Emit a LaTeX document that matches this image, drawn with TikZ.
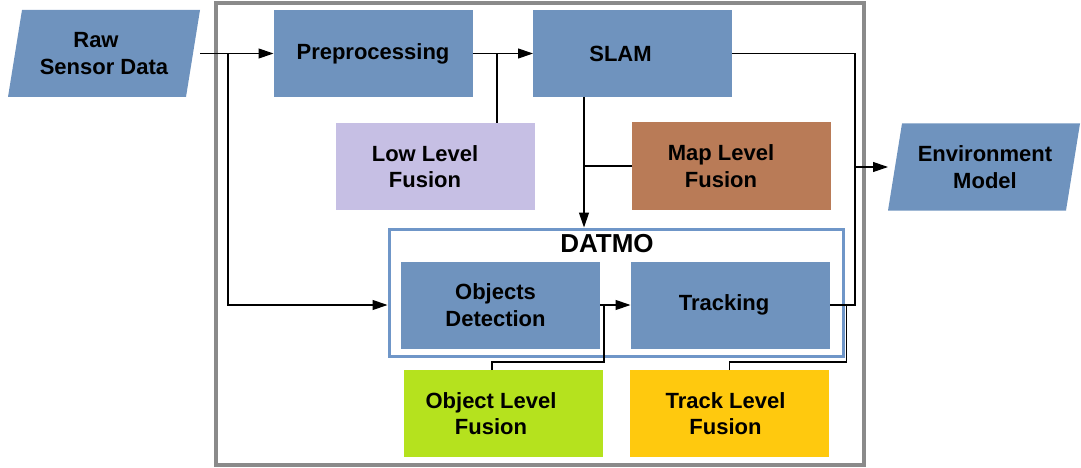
\documentclass[tikz,border=0pt]{standalone}
\usepackage{fontspec}
\setmainfont{Liberation Sans}
\usetikzlibrary{arrows.meta,backgrounds,calc}
\definecolor{bbox}{HTML}{6F93BE}
\definecolor{lav}{HTML}{C6BFE4}
\definecolor{brn}{HTML}{B97B57}
\definecolor{grn}{HTML}{B5E21E}
\definecolor{org}{HTML}{FFC90E}
\definecolor{dframe}{HTML}{6F96C8}
\definecolor{oframe}{HTML}{8A8A8A}
\begin{document}
\begin{tikzpicture}[x=1pt,y=-1pt,
  txt/.style={font=\fontsize{22}{26.5}\selectfont\bfseries, align=center, text=black},
  box/.style={rectangle, minimum width=199pt, minimum height=87pt, inner sep=0pt, outer sep=0pt},
  para/.style={rectangle, minimum width=192pt, minimum height=87pt, inner sep=0pt, outer sep=0pt},
  conn/.style={draw=black, line width=1.2pt},
  arr/.style={conn, -{Triangle[length=15pt,width=10pt]}},
  lab/.style={txt}
]
\useasboundingbox (0,0) rectangle (1081,468);
% outer frame
\node[draw=oframe, line width=3.5pt, rectangle, minimum width=648pt, minimum height=462pt, inner sep=0pt] (frame) at (540,234) {};
% DATMO frame
\node[draw=dframe, fill=white, line width=3pt, rectangle, minimum width=454pt, minimum height=127pt, inner sep=0pt] (datmo) at (616,292.5) {};
\node[txt, font=\fontsize{26}{30}\selectfont\bfseries] (datmolab) at (607,243.5) {DATMO};

% parallelograms
\node[para] (raw) at (104,53.5) {};
\node[para] (env) at (984,167) {};
\begin{scope}[on background layer]
\fill[bbox] ([xshift=14pt]raw.north west) -- (raw.north east) -- ([xshift=-14pt]raw.south east) -- (raw.south west) -- cycle;
\fill[bbox] ([xshift=14pt]env.north west) -- (env.north east) -- ([xshift=-14pt]env.south east) -- (env.south west) -- cycle;
\end{scope}
\node[txt] (rawt) at (104,53.5) {Raw\hspace*{16pt}\\Sensor Data};
\node[txt] (envt) at (985,167) {Environment\\Model};

% boxes
\node[box, fill=bbox, label={[lab]center:Preprocessing}] (pre) at (373,53.5) {};
\node[box, fill=bbox, label={[lab, xshift=-12pt]center:SLAM}] (slam) at (632.5,53.5) {};
\node[box, fill=lav, label={[lab, xshift=-10pt]center:Low Level\\Fusion}] (low) at (435,166.5) {};
\node[box, fill=brn, label={[lab, xshift=-10pt]center:Map Level\\Fusion}] (map) at (731,166) {};
\node[box, fill=bbox, label={[lab, xshift=-5pt]center:Objects\\Detection}] (od) at (500.5,305) {};
\node[box, fill=bbox, label={[lab, xshift=-6pt]center:Tracking}] (trk) at (730,305) {};
\node[box, fill=grn, label={[lab, xshift=-12pt]center:Object Level\\Fusion}] (olf) at (503,413.5) {};
\node[box, fill=org, label={[lab, xshift=-4pt]center:Track Level\\Fusion}] (tlf) at (729.5,413.5) {};

% connectors
\coordinate (jraw) at (228,53.5);
\coordinate (rbus) at (855,305);
\draw[arr] (raw.east) -- (pre.west);
\draw[arr] (jraw) |- (datmo.west |- od.west);
\draw[arr] (pre.east) -- (slam.west);
\draw[conn] ([xshift=62pt]low.north) -- ([xshift=62pt]low.north |- pre.east);
\draw[arr] ([xshift=-48.5pt]slam.south) -- ([xshift=-48.5pt]slam.south |- datmo.north);
\draw[conn] (map.west) -- ([xshift=-48.5pt]slam.south |- map.west);
\draw[conn] (slam.east) -| (rbus) -- (trk.east);
\draw[arr] (rbus |- env.west) -- (env.west);
\draw[arr] (od.east) -- (trk.west);
\draw[conn] ([xshift=-11pt]olf.north) -- ++(0,-8) -| ([xshift=4pt]od.east);
\draw[conn] (tlf.north) -- ++(0,-8) -| ([xshift=17pt]trk.east);
\end{tikzpicture}
\end{document}
